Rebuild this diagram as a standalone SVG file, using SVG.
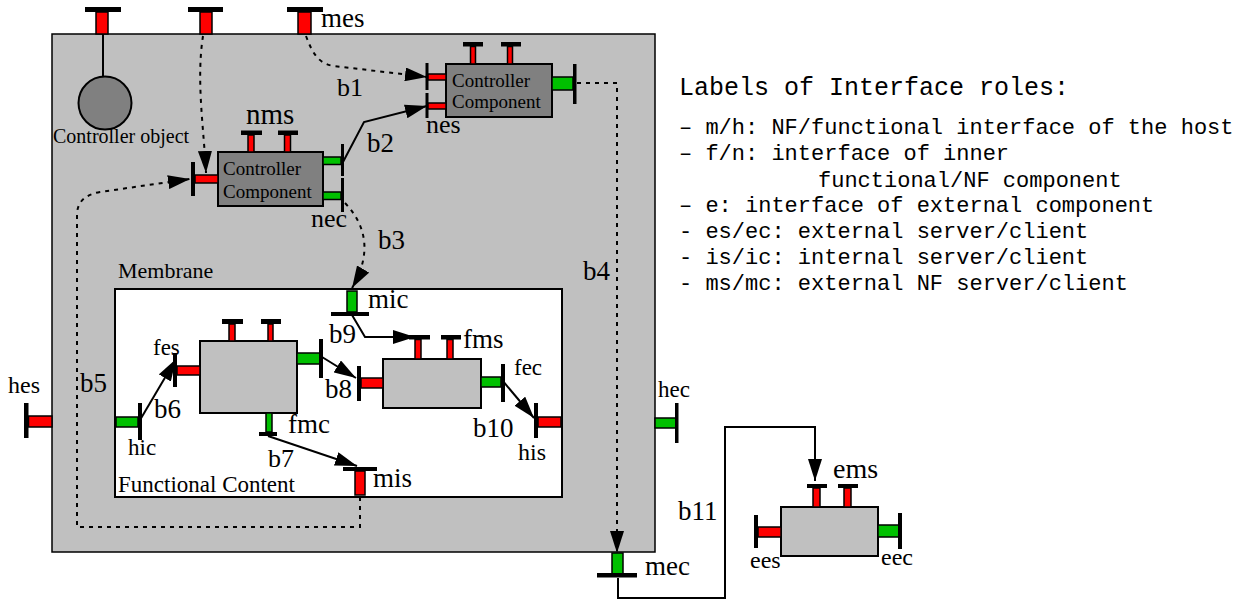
<svg xmlns="http://www.w3.org/2000/svg" width="1242" height="600" viewBox="0 0 1242 600">
<style>
.red{fill:#ff0000;stroke:#000;stroke-width:1.5}
.grn{fill:#00c000;stroke:#000;stroke-width:1.5}
.bar{fill:#000}
.cc{fill:#808080;stroke:#000;stroke-width:2}
.fc{fill:#c0c0c0;stroke:#000;stroke-width:2}
text{font-family:"Liberation Serif","Times New Roman",serif;fill:#000}
.mono{font-family:"Liberation Mono","Courier New",monospace}
.conn{fill:none;stroke:#000;stroke-width:2}
.dot{stroke-dasharray:4 5}
</style>
<defs>
<marker id="ah" viewBox="0 0 22 14" refX="22" refY="7" markerWidth="22" markerHeight="14" orient="auto" markerUnits="userSpaceOnUse">
<path d="M0,0 L22,7 L0,14 z" fill="#000"/>
</marker>
</defs>
<rect id="host" x="52" y="34" width="603" height="518" fill="#c0c0c0" stroke="#000" stroke-width="1.5"/>
<g id="controller-object">
<rect class="bar" x="85" y="7" width="36" height="5"/>
<rect class="red" x="96" y="12" width="12" height="22"/>
<line x1="103" y1="34" x2="103" y2="77" stroke="#000" stroke-width="2"/>
<circle cx="105" cy="103" r="26.5" fill="#808080" stroke="#000" stroke-width="2"/>
<text x="53" y="143" font-size="20">Controller object</text>
</g>
<g id="host-nf-server">
<rect class="bar" x="188" y="7" width="35" height="5"/>
<rect class="red" x="200" y="12" width="12" height="22"/>
</g>
<g id="mes">
<rect class="bar" x="287" y="7" width="36" height="5"/>
<rect class="red" x="298" y="12" width="13" height="22"/>
<text x="321" y="27" font-size="27">mes</text>
</g>
<g id="controller-component-1">
<rect class="cc" x="446" y="64" width="106" height="53"/>
<text x="452" y="87" font-size="19">Controller</text>
<text x="452" y="108" font-size="19">Component</text>
<rect class="bar" x="463" y="42" width="20" height="4.5"/>
<rect class="red" x="470.5" y="46.5" width="5" height="17.5"/>
<rect class="bar" x="501" y="42" width="20" height="4.5"/>
<rect class="red" x="507.5" y="46.5" width="5" height="17.5"/>
<rect class="bar" x="425.5" y="63" width="3" height="27"/>
<rect class="red" x="428" y="74" width="18" height="6"/>
<rect class="bar" x="425.5" y="93" width="3" height="25"/>
<rect class="red" x="428" y="103" width="18" height="6"/>
<rect class="grn" x="552" y="77" width="21" height="13"/>
<rect class="bar" x="573" y="64" width="3.5" height="40"/>
<text x="426" y="133" font-size="26">nes</text>
</g>
<g id="controller-component-2">
<rect class="cc" x="218" y="152" width="105" height="54"/>
<text x="223" y="175" font-size="19">Controller</text>
<text x="223" y="198" font-size="19">Component</text>
<rect class="bar" x="241" y="130.5" width="21" height="4.5"/>
<rect class="red" x="248" y="135" width="6" height="17"/>
<rect class="bar" x="278" y="130.5" width="20" height="4.5"/>
<rect class="red" x="284.5" y="135" width="6" height="17"/>
<text x="246" y="124" font-size="29">nms</text>
<rect class="bar" x="191" y="162" width="4" height="34"/>
<rect class="red" x="195" y="175" width="23" height="8"/>
<rect class="grn" x="323" y="157" width="18" height="7.5"/>
<rect class="bar" x="341" y="144" width="3" height="32"/>
<rect class="grn" x="323" y="192" width="18" height="7.5"/>
<rect class="bar" x="341" y="178" width="3" height="34"/>
<text x="311" y="227" font-size="26">nec</text>
</g>
<g id="membrane">
<rect x="115" y="289" width="447" height="208" fill="#fff" stroke="#000" stroke-width="2"/>
<text x="118" y="278" font-size="22">Membrane</text>
<text x="118" y="492" font-size="23">Functional Content</text>
</g>
<g id="mic">
<rect class="bar" x="331" y="312" width="38" height="4"/>
<rect class="grn" x="347" y="291" width="10" height="21"/>
<text x="368" y="308" font-size="27">mic</text>
</g>
<g id="functional-component-1">
<rect class="fc" x="200" y="341" width="97" height="72"/>
<rect class="bar" x="222" y="319" width="21" height="5"/>
<rect class="red" x="229" y="324" width="6" height="17"/>
<rect class="bar" x="261" y="319" width="20" height="5"/>
<rect class="red" x="268" y="324" width="5" height="17"/>
<rect class="bar" x="173" y="353" width="4" height="34"/>
<rect class="red" x="177" y="366" width="23" height="9"/>
<text x="153" y="355" font-size="23">fes</text>
<rect class="grn" x="297" y="353" width="23" height="11"/>
<rect class="bar" x="319" y="339" width="4" height="39"/>
<rect class="grn" x="266" y="413" width="6" height="19"/>
<rect class="bar" x="259" y="432" width="18" height="4"/>
<text x="288" y="433" font-size="27">fmc</text>
</g>
<g id="hic">
<rect class="grn" x="116" y="417" width="22" height="10"/>
<rect class="bar" x="138" y="403" width="4" height="37"/>
<text x="128" y="455" font-size="23">hic</text>
</g>
<g id="functional-component-2">
<rect class="fc" x="383" y="359" width="98" height="49"/>
<rect class="bar" x="409" y="335" width="21" height="4.5"/>
<rect class="red" x="415" y="339.5" width="6" height="19.5"/>
<rect class="bar" x="441" y="335" width="20" height="4.5"/>
<rect class="red" x="447" y="339.5" width="6" height="19.5"/>
<text x="463" y="348" font-size="27">fms</text>
<rect class="bar" x="357" y="366" width="4" height="35"/>
<rect class="red" x="361" y="378" width="22" height="10"/>
<rect class="grn" x="481" y="377" width="20" height="10"/>
<rect class="bar" x="501" y="364" width="4" height="38"/>
<text x="514" y="375" font-size="23">fec</text>
</g>
<g id="his">
<rect class="bar" x="534" y="403" width="4" height="35"/>
<rect class="red" x="538" y="417" width="23" height="10"/>
<text x="518" y="460" font-size="24">his</text>
</g>
<g id="mis">
<rect class="bar" x="343" y="467" width="34" height="4"/>
<rect class="red" x="355" y="471" width="10" height="24"/>
<text x="373" y="487" font-size="27">mis</text>
</g>
<g id="hes">
<rect class="bar" x="24" y="403" width="4.5" height="35"/>
<rect class="red" x="28.5" y="416" width="23.5" height="11"/>
<text x="8" y="393" font-size="24">hes</text>
</g>
<g id="hec">
<rect class="grn" x="655" y="418" width="21" height="10"/>
<rect class="bar" x="675" y="403" width="3.5" height="40"/>
<text x="658" y="397" font-size="23">hec</text>
</g>
<g id="mec">
<rect class="grn" x="612" y="553" width="11" height="21"/>
<rect class="bar" x="597" y="573" width="40" height="4.5"/>
<text x="645" y="575" font-size="27">mec</text>
</g>
<g id="external-component">
<rect class="fc" x="781" y="507" width="97" height="49"/>
<rect class="bar" x="807" y="484" width="20" height="4"/>
<rect class="red" x="813" y="488" width="7" height="19"/>
<rect class="bar" x="838" y="484" width="20" height="4"/>
<rect class="red" x="844" y="488" width="7" height="19"/>
<text x="833" y="478" font-size="28">ems</text>
<rect class="bar" x="754" y="515" width="4" height="33"/>
<rect class="red" x="758" y="527" width="23" height="10"/>
<text x="750" y="568" font-size="24">ees</text>
<rect class="grn" x="878" y="525" width="21" height="12"/>
<rect class="bar" x="898" y="513" width="4" height="36"/>
<text x="881" y="565" font-size="24">eec</text>
</g>
<g id="connectors">
<path class="conn dot" d="M203,36 C196,80 204,130 206,173" marker-end="url(#ah)"/>
<path class="conn dot" d="M306,36 C312,52 318,64 334,66 L427,77" marker-end="url(#ah)"/>
<path class="conn" d="M343,162 L364,122 L427,106" marker-end="url(#ah)"/>
<path class="conn dot" d="M345,203 Q380,240 352,288" marker-end="url(#ah)"/>
<path class="conn dot" d="M577,83 L617,83 L617,553" marker-end="url(#ah)"/>
<path class="conn dot" d="M360,497 L360,527 L77,527 L77,215 Q77,196 100,192 L190,179" marker-end="url(#ah)"/>
<path class="conn" d="M140,420 L176,359" marker-end="url(#ah)"/>
<path class="conn" d="M268,436 L357,466" marker-end="url(#ah)"/>
<path class="conn" d="M322,357 L356,378" marker-end="url(#ah)"/>
<path class="conn" d="M352,315 L365,337 L415,337" marker-end="url(#ah)"/>
<path class="conn" d="M502,380 L534,418" marker-end="url(#ah)"/>
<path class="conn" d="M618,578 L618,598 L725,598 L725,427 L815,427 L815,481" marker-end="url(#ah)"/>
<text x="337" y="96" font-size="26">b1</text>
<text x="367" y="152" font-size="27">b2</text>
<text x="378" y="249" font-size="27">b3</text>
<text x="583" y="280" font-size="27">b4</text>
<text x="80" y="392" font-size="27">b5</text>
<text x="154" y="418" font-size="27">b6</text>
<text x="268" y="467" font-size="26">b7</text>
<text x="325" y="398" font-size="27">b8</text>
<text x="329" y="343" font-size="27">b9</text>
<text x="473" y="437" font-size="27">b10</text>
<text x="678" y="520" font-size="27">b11</text>
</g>
<g id="legend" class="mono">
<text class="mono" x="679" y="95" font-size="25">Labels of Interface roles:</text>
<text class="mono" x="679" y="134" font-size="22">– m/h: NF/functional interface of the host</text>
<text class="mono" x="679" y="160" font-size="22">– f/n: interface of inner</text>
<text class="mono" x="818" y="187" font-size="22">functional/NF component</text>
<text class="mono" x="679" y="212" font-size="22">– e: interface of external component</text>
<text class="mono" x="679" y="238" font-size="22">- es/ec: external server/client</text>
<text class="mono" x="679" y="264" font-size="22">- is/ic: internal server/client</text>
<text class="mono" x="679" y="290" font-size="22">- ms/mc: external NF server/client</text>
</g>
</svg>
